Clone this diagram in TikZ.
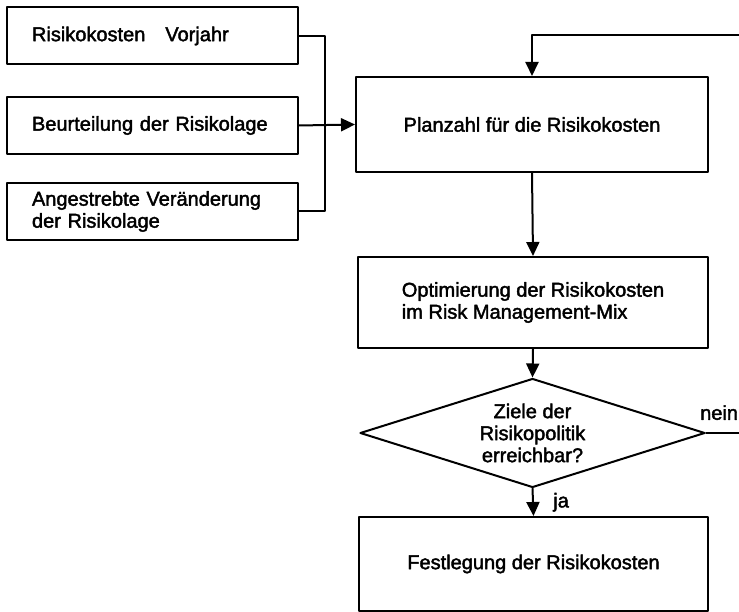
\documentclass[tikz,border=0pt]{standalone}
\usepackage{fontspec}
\setmainfont{Liberation Sans}
\newfontfamily\scanfont[FakeBold=2]{Liberation Sans}
\usetikzlibrary{arrows.meta,shapes.geometric}

\begin{document}
\begin{tikzpicture}[line cap=round,line join=round,x=1pt,y=-1pt,
        font=\scanfont\fontsize{20}{22}\selectfont,
        box/.style={draw,line width=2pt,inner sep=0pt,minimum width=#1},
        inbox/.style={box=291pt,minimum height=57pt,text width=241pt,align=left},
        decide/.style={draw,diamond,shape aspect=3.17,line width=2pt,inner sep=0pt,align=center,minimum width=345pt,minimum height=109pt},
        flow/.style={line width=2pt,-{Triangle[length=14pt,width=13pt]}},
        link/.style={line width=2pt}]
        \useasboundingbox (0,0) rectangle (739,612);
        % inputs on the left
        \node[inbox] (vorjahr) at (152.5,36) {Risikokosten\quad Vorjahr};
        \node[inbox] (lage) at (152.5,125.5) {Beurteilung der Risikolage};
        \node[inbox] (aenderung) at (152.5,211.5) {Angestrebte Veränderung\\der Risikolage};
        % main chain
        \node[box=352pt,minimum height=95pt] (plan) at (532,124.5) {Planzahl für die Risikokosten};
        \node[box=350pt,minimum height=91pt,align=left] (optim) at (533,302.5) {Optimierung der Risikokosten\\im Risk Management-Mix};
        \node[decide] (ziele) at (532.5,433) {Ziele der\\Risikopolitik\\erreichbar?};
        \node[box=349pt,minimum height=94pt] (festl) at (533.5,564) {Festlegung der Risikokosten};
        \coordinate (bus) at (325,36);
        \coordinate (loopin) at (739,35);
        \coordinate (loopout) at (739,433);
        \draw[link] (vorjahr.east) -- (bus) |- (aenderung.east);
        \draw[flow] (lage.east) -- (plan.west);
        \draw[flow] (loopin) -| (plan.north);
        \draw[flow] (plan.south) -- (optim.north);
        \draw[flow] (optim.south) -- (ziele.north);
        \draw[flow] (ziele.south) -- node[right=16pt] {ja} (festl.north);
        \draw[link] (ziele.east) -- (loopout) node[pos=1,anchor=south east,inner sep=0pt,yshift=12pt] {nein};
    \end{tikzpicture}
\end{document}
